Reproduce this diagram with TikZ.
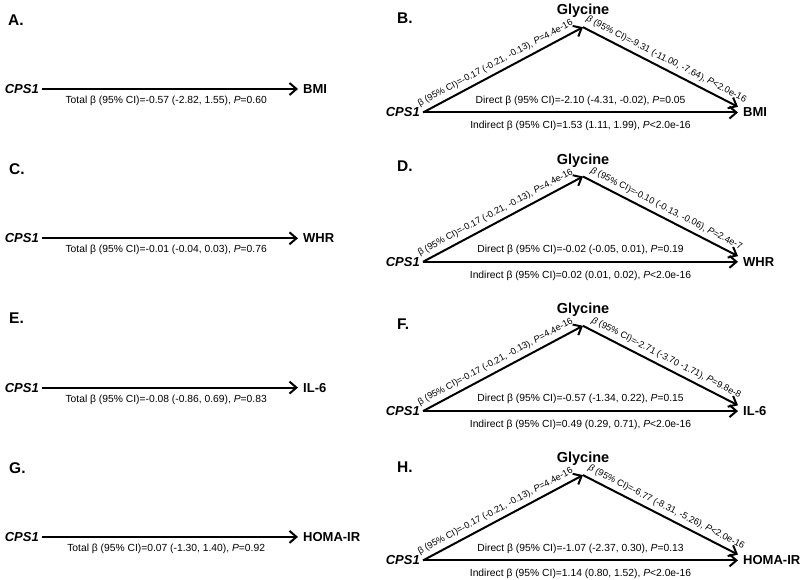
\documentclass[tikz,border=0pt]{standalone}
\usepackage{fontspec}
\setmainfont{Liberation Sans}
\usetikzlibrary{arrows.meta}

\tikzset{
	panel/.style={anchor=west, inner sep=0pt, font=\fontsize{15.5}{18}\selectfont\bfseries},
	gene/.style={anchor=east, inner xsep=3pt, inner ysep=1pt, font=\fontsize{13}{15}\selectfont\bfseries\itshape},
	outcome/.style={anchor=west, inner xsep=5pt, inner ysep=1pt, font=\fontsize{13}{15}\selectfont\bfseries},
	metab/.style={anchor=base, inner xsep=1pt, inner ysep=9pt, font=\fontsize{14.5}{17}\selectfont\bfseries},
	conn/.style={-{Straight Barb[length=7pt,width=12pt]}, line width=2pt},
	est/.style={inner sep=1pt, font=\fontsize{10.3}{12}\selectfont},
	slest/.style={inner sep=1pt, sloped, above=3pt, font=\fontsize{9.2}{11}\selectfont},
}

\begin{document}
\begin{tikzpicture}[x=1pt, y=-1pt]
	\useasboundingbox (0,0) rectangle (800,580);

	% total effects
	\node[panel] (pA) at (8, 20.5)  {A.};
	\node[panel] (pC) at (9, 169)   {C.};
	\node[panel] (pE) at (9, 318)   {E.};
	\node[panel] (pG) at (9, 468)   {G.};

	\node[gene] (cpsA) at (42, 89)      {CPS1};
	\node[gene] (cpsC) at (42, 238.3)   {CPS1};
	\node[gene] (cpsE) at (42, 387.6)   {CPS1};
	\node[gene] (cpsG) at (42, 536.9)   {CPS1};
	\node[outcome] (bmiA)  at (298, 89)     {BMI};
	\node[outcome] (whrC)  at (298, 238.3)  {WHR};
	\node[outcome] (il6E)  at (298, 387.6)  {IL-6};
	\node[outcome] (homaG) at (298, 536.9)  {HOMA-IR};

	\path[conn] (cpsA) edge node[est, below=5pt, pos=0.485] {Total β (95\% CI)=-0.57 (-2.82, 1.55), \textit{P}=0.60} (bmiA);
	\path[conn] (cpsC) edge node[est, below=5pt, pos=0.485] {Total β (95\% CI)=-0.01 (-0.04, 0.03), \textit{P}=0.76} (whrC);
	\path[conn] (cpsE) edge node[est, below=5pt, pos=0.485] {Total β (95\% CI)=-0.08 (-0.86, 0.69), \textit{P}=0.83} (il6E);
	\path[conn] (cpsG) edge node[est, below=5pt, pos=0.485] {Total β (95\% CI)=0.07 (-1.30, 1.40), \textit{P}=0.92} (homaG);

	% mediation through glycine
	\node[panel] (pB) at (397, 18.5) {B.};
	\node[panel] (pD) at (397, 166)  {D.};
	\node[panel] (pF) at (397, 324)  {F.};
	\node[panel] (pH) at (397, 467)  {H.};

	\node[gene] (cpsB) at (423, 112.5)  {CPS1};
	\node[gene] (cpsD) at (423, 261.8)  {CPS1};
	\node[gene] (cpsF) at (423, 411.1)  {CPS1};
	\node[gene] (cpsH) at (423, 560.4)  {CPS1};
	\node[metab] (glyB) at (583, 15)     {Glycine};
	\node[metab] (glyD) at (583, 164.3)  {Glycine};
	\node[metab] (glyF) at (583, 313.6)  {Glycine};
	\node[metab] (glyH) at (583, 462.9)  {Glycine};
	\node[outcome] (bmiB)  at (738, 112.5)  {BMI};
	\node[outcome] (whrD)  at (738, 261.8)  {WHR};
	\node[outcome] (il6F)  at (738, 411.1)  {IL-6};
	\node[outcome] (homaH) at (738, 560.4)  {HOMA-IR};

	\path[conn] (cpsB.east) edge node[slest, pos=0.48] {β (95\% CI)=-0.17 (-0.21, -0.13), \textit{P}=4.4e-16} (glyB.south);
	\path[conn] (glyB.south) edge node[slest, pos=0.51] {\textit{β} (95\% CI)=-9.31 (-11.00, -7.64), \textit{P}<2.0e-16} (bmiB.north west);
	\path[conn] (cpsB.east) edge node[est, above=5pt] {Direct β (95\% CI)=-2.10 (-4.31, -0.02), \textit{P}=0.05}
		node[est, below=7pt] {Indirect β (95\% CI)=1.53 (1.11, 1.99), \textit{P}<2.0e-16} (bmiB.west);

	\path[conn] (cpsD.east) edge node[slest, pos=0.48] {β (95\% CI)=-0.17 (-0.21, -0.13), \textit{P}=4.4e-16} (glyD.south);
	\path[conn] (glyD.south) edge node[slest, pos=0.51] {\textit{β} (95\% CI)=-0.10 (-0.13, -0.06), \textit{P}=2.4e-7} (whrD.north west);
	\path[conn] (cpsD.east) edge node[est, above=5pt] {Direct β (95\% CI)=-0.02 (-0.05, 0.01), \textit{P}=0.19}
		node[est, below=7pt] {Indirect β (95\% CI)=0.02 (0.01, 0.02), \textit{P}<2.0e-16} (whrD.west);

	\path[conn] (cpsF.east) edge node[slest, pos=0.48] {β (95\% CI)=-0.17 (-0.21, -0.13), \textit{P}=4.4e-16} (glyF.south);
	\path[conn] (glyF.south) edge node[slest, pos=0.51] {\textit{β} (95\% CI)=-2.71 (-3.70 -1.71), \textit{P}=9.8e-8} (il6F.north west);
	\path[conn] (cpsF.east) edge node[est, above=5pt] {Direct β (95\% CI)=-0.57 (-1.34, 0.22), \textit{P}=0.15}
		node[est, below=7pt] {Indirect β (95\% CI)=0.49 (0.29, 0.71), \textit{P}<2.0e-16} (il6F.west);

	\path[conn] (cpsH.east) edge node[slest, pos=0.48] {β (95\% CI)=-0.17 (-0.21, -0.13), \textit{P}=4.4e-16} (glyH.south);
	\path[conn] (glyH.south) edge node[slest, pos=0.51] {\textit{β} (95\% CI)=-6.77 (-8.31, -5.26), \textit{P}<2.0e-16} (homaH.north west);
	\path[conn] (cpsH.east) edge node[est, above=5pt] {Direct β (95\% CI)=-1.07 (-2.37, 0.30), \textit{P}=0.13}
		node[est, below=7pt] {Indirect β (95\% CI)=1.14 (0.80, 1.52), \textit{P}<2.0e-16} (homaH.west);
\end{tikzpicture}
\end{document}
